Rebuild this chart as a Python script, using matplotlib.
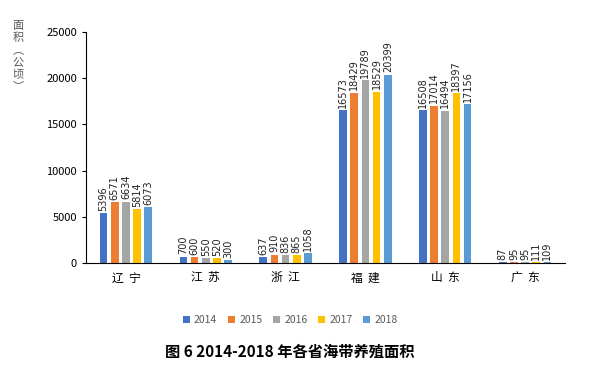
import matplotlib.pyplot as plt
import numpy as np

plt.rcParams['font.family'] = ['Noto Sans CJK SC', 'DejaVu Sans']

provinces = ['辽  宁', '江  苏', '浙  江', '福  建', '山  东', '广  东']
years = ['2014', '2015', '2016', '2017', '2018']
v2014 = [5396, 700, 637, 16573, 16508, 87]
v2015 = [6571, 600, 910, 18429, 17014, 95]
v2016 = [6634, 550, 836, 19789, 16494, 95]
v2017 = [5814, 520, 865, 18529, 18397, 111]
v2018 = [6073, 300, 1058, 20399, 17156, 109]
colors = ['#4472C4', '#ED7D31', '#A5A5A5', '#FFC000', '#5B9BD5']
ylabel_chars = ['面', '积', '︵', '公', '顷', '︶']

series = [v2014, v2015, v2016, v2017, v2018]

fig = plt.figure(figsize=(5.91, 3.70), dpi=100)
ax = fig.add_axes([86 / 591, 107 / 370, 479 / 591, 231 / 370])

x = np.arange(len(provinces))
step = 0.14
w = 0.095
for i, (vals, c, yr) in enumerate(zip(series, colors, years)):
    pos = x + (i - 2) * step
    ax.bar(pos, vals, width=w, color=c, label=yr)
    for p, v in zip(pos, vals):
        ax.text(p, v + 250, str(v), rotation=90, ha='center', va='bottom',
                fontsize=7, family=['Liberation Sans Narrow', 'DejaVu Sans'], color='#222222')

ax.set_xlim(-0.5, len(provinces) - 0.5)
ax.set_ylim(0, 25000)
ax.set_yticks(range(0, 25001, 5000))
ax.tick_params(axis='y', labelsize=8, length=3, direction='out')
ax.tick_params(axis='x', length=0, labelsize=8.5, pad=6)
ax.set_xticks(x)
ax.set_xticklabels(provinces)
ax.spines['top'].set_visible(False)
ax.spines['right'].set_visible(False)

# vertical y label, one character per line
for k, ch in enumerate(ylabel_chars):
    fig.text(18 / 591, 1 - (26 + k * 12) / 370, ch, ha='center', va='center',
             fontsize=8, color='#555555')

leg = fig.legend(loc='center', bbox_to_anchor=(290 / 591, 1 - 320 / 370), ncol=5,
                 frameon=False, fontsize=7.5, handlelength=0.7, handleheight=0.7,
                 columnspacing=1.0, handletextpad=0.4)
for t in leg.get_texts():
    t.set_color('#595959')

fig.text(290 / 591, 1 - 352 / 370, '图 6 2014-2018 年各省海带养殖面积', ha='center', va='center',
         fontsize=11, fontweight='bold')

fig.savefig('out.png', dpi=100)
